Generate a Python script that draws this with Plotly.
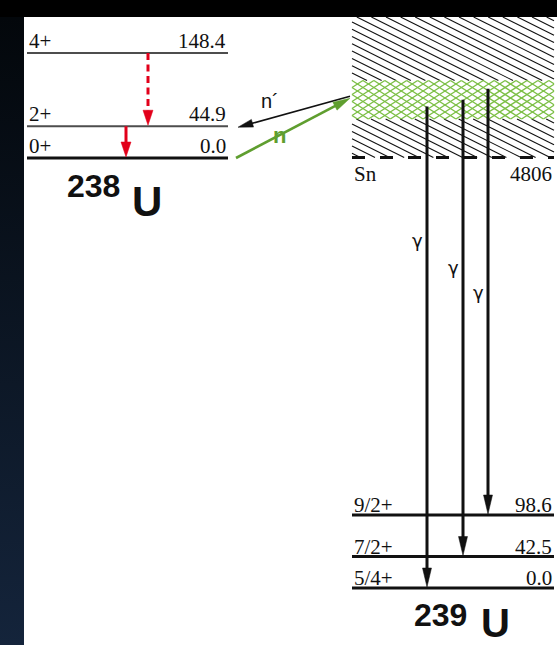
import math
import plotly.graph_objects as go

W, H = 557, 645

# ---- level data (keV) ----
U238_SPIN = ["0+", "2+", "4+"]
U238_KEV = [0.0, 44.9, 148.4]
U239_SPIN = ["5/4+", "7/2+", "9/2+"]
U239_KEV = [0.0, 42.5, 98.6]
SN_KEV = 4806

# inelastic de-excitation in 238U
U238_FROM = [44.9, 148.4]
U238_TO = [0.0, 44.9]
U238_DASHED = [False, True]

# capture states in 239U, keV above Sn (schematic)
CAPTURE_BAND_KEV = [52, 104]
NEUTRON_KEV = 80
GAMMA_FROM_KEV = [69, 78, 93]
GAMMA_TO_KEV = [0.0, 42.5, 98.6]

# ---- layout (pixels) ----
PANEL_X, PANEL_Y = 24, 17
LEFT_X = (27, 228)
RIGHT_X = (352, 554)
GAMMA_X = [427, 463, 488]
GAMMA_LABEL_Y = [241, 267, 292]

SERIF = "Liberation Serif"
SANS = "Liberation Sans"
INK = "#111111"
RED = "#e2001a"
GREEN = "#5f9e2f"
MESH = "#7cbf45"


def axis_range(v0, px0, px_per_unit):
    return [v0 - (H - px0) / px_per_unit, v0 + px0 / px_per_unit]


K238 = (158 - 53) / 148.4
K239 = (588 - 515) / 98.6
R238 = axis_range(0.0, 158, K238)
R239 = axis_range(0.0, 588, K239)
RCAP = axis_range(0.0, 157.5, K239)


def to_px(v, rng):
    return H * (rng[1] - v) / (rng[1] - rng[0])


def from_px(p, rng):
    return rng[1] - p * (rng[1] - rng[0]) / H


def paper(p):
    return 1 - p / H


fig = go.Figure()
shapes = []
annotations = []

# ---- background frame: dark gradient strip on the left, black band on top ----
fig.add_trace(go.Scatter(
    x=[0, PANEL_X, PANEL_X, 0, 0],
    y=[from_px(PANEL_Y, R238), from_px(PANEL_Y, R238), from_px(H, R238), from_px(H, R238),
       from_px(PANEL_Y, R238)],
    yaxis="y", mode="none", fill="toself",
    fillgradient=dict(type="vertical", colorscale=[[0, "#14243b"], [1, "#03070b"]]),
    hoverinfo="skip"))
shapes.append(dict(type="rect", xref="paper", yref="paper", x0=0, x1=1,
                   y0=paper(PANEL_Y), y1=1, fillcolor="#000000", line_width=0, layer="above"))


# ---- hatched capture region above Sn ----
def hatch(x0, x1, rects, slope, step, base):
    xs, ys = [], []
    span = abs(slope) * (x1 - x0)
    top = min(r[0] for r in rects)
    bot = max(r[1] for r in rects)
    k0 = math.floor((top - span - base) / step) - 1
    k1 = math.ceil((bot + span - base) / step) + 1
    for k in range(k0, k1 + 1):
        c = base + k * step
        for ya, yb in rects:
            xa = x0 + (ya - c) / slope
            xb = x0 + (yb - c) / slope
            lo, hi = max(min(xa, xb), x0), min(max(xa, xb), x1)
            if hi - lo > 0.3:
                xs += [lo, hi, None]
                ys += [from_px(c + slope * (lo - x0), RCAP),
                       from_px(c + slope * (hi - x0), RCAP), None]
    return xs, ys


sn_px = to_px(0, RCAP)
band_top = to_px(CAPTURE_BAND_KEV[1], RCAP)
band_bot = to_px(CAPTURE_BAND_KEV[0], RCAP)

hx, hy = hatch(RIGHT_X[0], RIGHT_X[1], [(PANEL_Y, band_top), (band_bot, sn_px)], 0.5, 7.3, 0)
fig.add_trace(go.Scatter(x=hx, y=hy, yaxis="y3", mode="lines",
                         line=dict(color="#111111", width=1.1), hoverinfo="skip"))
for s in (0.64, -0.64):
    mx, my = hatch(RIGHT_X[0], RIGHT_X[1], [(band_top, band_bot)], s, 7.0, band_top)
    fig.add_trace(go.Scatter(x=mx, y=my, yaxis="y3", mode="lines",
                             line=dict(color=MESH, width=1.4), hoverinfo="skip"))

shapes.append(dict(type="line", xref="x", yref="y3", x0=RIGHT_X[0], x1=RIGHT_X[1], y0=0, y1=0,
                   line=dict(color=INK, width=3, dash="13px,15px")))

# ---- level lines ----
for e in U238_KEV:
    ground = e == 0
    fig.add_trace(go.Scatter(x=list(LEFT_X), y=[e, e], yaxis="y", mode="lines",
                             line=dict(color=INK if ground else "#4d4d4d", width=3 if ground else 2),
                             hoverinfo="skip"))
for e in U239_KEV:
    fig.add_trace(go.Scatter(x=list(RIGHT_X), y=[e, e], yaxis="y2", mode="lines",
                             line=dict(color=INK, width=3), hoverinfo="skip"))


# ---- arrows ----
def arrow(x0, p0, x1, p1, color, width, hl, hw, dash="solid"):
    dx, dy = x1 - x0, p1 - p0
    d = math.hypot(dx, dy)
    ux, uy = dx / d, dy / d
    bx, by = x1 - ux * hl, p1 - uy * hl
    nx, ny = -uy, ux
    shapes.append(dict(type="line", xref="x", yref="paper", x0=x0, y0=paper(p0),
                       x1=bx + ux * 1.5, y1=paper(by + uy * 1.5),
                       line=dict(color=color, width=width, dash=dash)))
    pts = [(x1, p1), (bx + nx * hw / 2, by + ny * hw / 2), (bx - nx * hw / 2, by - ny * hw / 2)]
    path = "M" + "L".join("%.2f,%.5f" % (x, paper(p)) for x, p in pts) + "Z"
    shapes.append(dict(type="path", xref="x", yref="paper", path=path,
                       fillcolor=color, line=dict(color=color, width=0.5)))


U238_ARROW_X = [126, 148]
for xa, e0, e1, dashed in zip(U238_ARROW_X, U238_FROM, U238_TO, U238_DASHED):
    arrow(xa, to_px(e0, R238), xa, to_px(e1, R238) - 1, RED, 3, 15, 10,
          dash="7px,4.5px" if dashed else "solid")

for xg, e0, e1 in zip(GAMMA_X, GAMMA_FROM_KEV, GAMMA_TO_KEV):
    arrow(xg, to_px(e0, RCAP), xg, to_px(e1, R239) - 1, INK, 3, 19, 9)

n_px = to_px(NEUTRON_KEV, RCAP)
arrow(RIGHT_X[0] - 2, n_px - 2, LEFT_X[1] + 10, to_px(U238_KEV[1], R238) + 1, INK, 1.6, 15, 8)
arrow(LEFT_X[1] + 8, to_px(U238_KEV[0], R238), RIGHT_X[0] - 2, n_px, GREEN, 2.6, 17, 9)


# ---- text ----
def label(x, y, yref, text, xanchor, yshift, size=21, font=SERIF, color=INK, weight="normal"):
    annotations.append(dict(x=x, y=y, xref="x", yref=yref, text=text, showarrow=False,
                            xanchor=xanchor, yanchor="middle", yshift=yshift,
                            font=dict(family=font, size=size, color=color, weight=weight)))


for spin, e in zip(U238_SPIN, U238_KEV):
    label(LEFT_X[0], e, "y", spin, "left", 12)
    label(LEFT_X[1], e, "y", "%.1f" % e, "right", 12)
for spin, e in zip(U239_SPIN, U239_KEV):
    label(RIGHT_X[0], e, "y2", spin, "left", 10)
    label(RIGHT_X[1], e, "y2", "%.1f" % e, "right", 10)
label(RIGHT_X[0], 0, "y3", "Sn", "left", -16)
label(RIGHT_X[1], 0, "y3", str(SN_KEV), "right", -16)

for xg, py in zip(GAMMA_X, GAMMA_LABEL_Y):
    annotations.append(dict(x=xg - 10, y=paper(py), xref="x", yref="paper", text="γ",
                            showarrow=False, xanchor="center", yanchor="middle",
                            font=dict(family="DejaVu Sans", size=18, color=INK)))

annotations.append(dict(x=270, y=paper(101), xref="x", yref="paper", text="n´", showarrow=False,
                        xanchor="center", yanchor="middle", font=dict(family=SANS, size=20, color=INK)))
annotations.append(dict(x=279, y=paper(135), xref="x", yref="paper", text="n", showarrow=False,
                        xanchor="center", yanchor="middle",
                        font=dict(family=SANS, size=22, color=GREEN, weight="bold")))

# nucleus names
label(93, 0, "y", "238", "center", -28, size=32, font=SANS, weight="bold")
label(147, 0, "y", "U", "center", -43, size=42, font=SANS, weight="bold")
label(440, 0, "y2", "239", "center", -27, size=32, font=SANS, weight="bold")
label(495, 0, "y2", "U", "center", -35, size=40, font=SANS, weight="bold")

hidden = dict(visible=False, showgrid=False, zeroline=False, fixedrange=True)
fig.update_layout(
    width=W, height=H, margin=dict(l=0, r=0, t=0, b=0),
    paper_bgcolor="white", plot_bgcolor="white", showlegend=False,
    xaxis=dict(range=[0, W], domain=[0, 1], **hidden),
    yaxis=dict(range=R238, domain=[0, 1], **hidden),
    yaxis2=dict(range=R239, overlaying="y", **hidden),
    yaxis3=dict(range=RCAP, overlaying="y", **hidden),
    shapes=shapes, annotations=annotations,
)

fig.write_html("out.html", config={"displayModeBar": False})
